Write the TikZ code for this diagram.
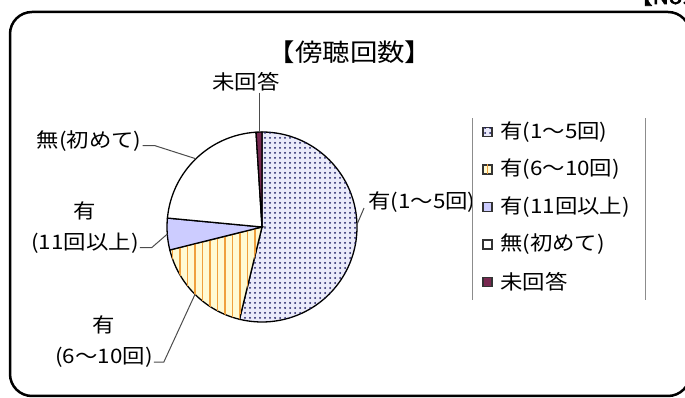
\documentclass[tikz,border=0pt]{standalone}
\usepackage{fontspec}
\setmainfont{Noto Sans CJK JP}[FakeStretch=1.12]
\newfontfamily\boldcjk{Noto Sans CJK JP}[FakeStretch=1.12,FakeBold=3]
\usetikzlibrary{calc}
\usetikzlibrary{patterns.meta}
\definecolor{dotbg}{RGB}{234,234,250}
\definecolor{dotfg}{RGB}{25,25,95}
\definecolor{stripebg}{RGB}{255,250,210}
\definecolor{stripefg}{RGB}{240,160,60}
\definecolor{lilac}{RGB}{204,204,255}
\definecolor{plum}{RGB}{120,40,80}
\tikzset{
    dotfill/.style={fill=dotbg, postaction={pattern={Dots[distance=5pt,radius=1pt]}, pattern color=dotfg}},
    stripefill/.style={fill=stripebg, postaction={pattern={Lines[angle=90,distance=7.5pt,line width=1.6pt]}, pattern color=stripefg}},
    lilacfill/.style={fill=lilac},
    whitefill/.style={fill=white},
    plumfill/.style={fill=plum},
    leader/.style={draw=black!70, line width=1pt},
    lbl/.style={font=\fontsize{20}{31}\selectfont, align=center, inner sep=1pt},
    key/.style={draw=black!80, line width=1.5pt, minimum size=9pt, inner sep=0pt}
}

\begin{document}
\begin{tikzpicture}[x=1pt,y=1pt]
                \useasboundingbox (0,0) rectangle (685,398);
                \def \radius {95}
                % frame and title
                \draw[line width=2.5pt, rounded corners=22pt] (10,2) rectangle (690,386);
                \node[anchor=base west, inner sep=0, font=\boldcjk\fontsize{20}{22}\selectfont] (no) at (630,394) {【No.};
                \node[font=\fontsize{24.5}{28}\selectfont] (title) at (350,346) {【傍聴回数】};
                % pie
                \coordinate (c) at (262,171);
                \foreach \a/\b/\F/\n in {90/-103.7/dotfill/1,-103.7/-166/stripefill/2,-166/-185.4/lilacfill/3,-185.4/-266.4/whitefill/4,-266.4/-270/plumfill/5}
                {
                    \draw[\F, line width=1.3pt] (c) -- +(\a:\radius) arc[start angle=\a, end angle=\b, radius=\radius] -- cycle;
                    \coordinate (e\n) at ($(c)+({(\a+\b)/2}:\radius)$);
                }
                \coordinate (e1) at ($(c)+(1.5:\radius)$);
                % labels
                \node[lbl, anchor=west] (l1) at (367,195.5) {有(1～5回)};
                \node[lbl] (l2) at (104,56) {有\\(6～10回)};
                \node[lbl] (l3) at (85,170.5) {有\\(11回以上)};
                \node[lbl] (l4) at (89,257) {無(初めて)};
                \node[lbl] (l5) at (246,316) {未回答};
                \draw[leader] ([xshift=-3pt,yshift=6pt]l1.south west) -- (e1);
                \draw[leader] ([yshift=7pt]l2.south east) -- ++(10,0) -- (e2);
                \draw[leader] ([yshift=7pt]l3.south east) -- ++(12,0) -- (e3);
                \draw[leader] ([yshift=7pt]l4.south east) -- ++(12,0) -- (e4);
                \draw[leader] (l5.south -| e5) -- (e5);
                % legend
                \draw[black!45, line width=1pt] (472,98) -- (472,280) (645,98) -- (645,280);
                \foreach \F/\t [count=\i] in {dotfill/有(1～5回),stripefill/有(6～10回),lilacfill/有(11回以上),whitefill/無(初めて),plumfill/未回答}
                {
                    \node[key, \F] (k\i) at (487.5,{266-37.5*(\i-1)}) {};
                    \node[lbl, anchor=west, fill=white] (t\i) at (499,{266-37.5*(\i-1)}) {\t};
                }
            \end{tikzpicture}
\end{document}
